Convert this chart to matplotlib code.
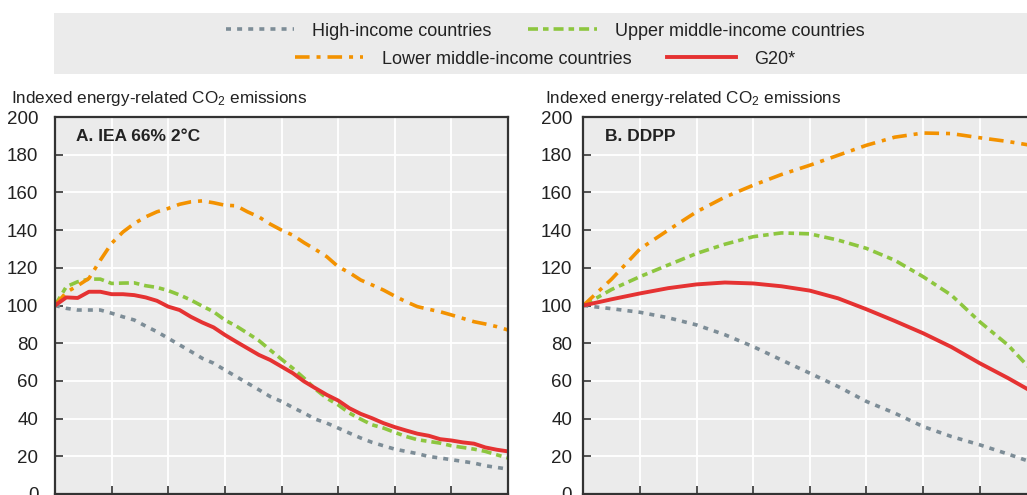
import matplotlib
matplotlib.use("Agg")
import matplotlib.pyplot as plt
from matplotlib import font_manager as fm
from matplotlib.lines import Line2D
from matplotlib.patches import Rectangle

names = {f.name for f in fm.fontManager.ttflist}
FONT = "Liberation Sans Narrow" if "Liberation Sans Narrow" in names else "Liberation Sans"
plt.rcParams["font.family"] = [FONT, "DejaVu Sans"]
plt.rcParams["mathtext.fontset"] = "custom"
plt.rcParams["mathtext.rm"] = FONT
plt.rcParams["mathtext.it"] = FONT
plt.rcParams["lines.scale_dashes"] = False

# ---------------- data ----------------
years_a = list(range(2010, 2051))
iea_high = [100, 98.5, 97.6, 97.6, 97.6, 95.9, 94, 92.3, 89.1, 86.1, 82.6, 79.1, 75.6, 72, 69.4,
            65.8, 62.3, 58.8, 55.3, 51.7, 49.1, 45.9, 42.9, 39.7, 37.6, 35, 32.3, 29.7, 27.4,
            25.6, 23.8, 22.6, 21.4, 19.9, 19.1, 18.2, 17.3, 16.4, 15, 14.1, 13.2]
iea_upper = [100, 110, 112.6, 114, 114, 111.7, 111.9, 112, 110.5, 109.6, 107.9, 105.6, 102.9,
             99.7, 96.7, 92.3, 89.1, 85.3, 81.4, 76.4, 71.5, 66.7, 61.4, 55.6, 50.8, 47.3, 42.9,
             39.7, 36.7, 35, 32.7, 30.5, 28.8, 27.9, 27, 25.6, 24.7, 23.8, 22.6, 20.8, 19.1]
iea_lower = [100, 107, 110.5, 114.4, 124, 133, 139, 143.5, 147, 149.7, 151.5, 153.7, 155, 155.5,
             154.5, 153.2, 152.9, 149.7, 147, 143.2, 140, 137.3, 133.3, 129.7, 125.9, 120.6,
             117.4, 113.5, 110.9, 108.2, 105, 102, 99.4, 98, 96.7, 95, 93.2, 91.4, 90.2, 88.8, 87]
iea_g20 = [100, 104.3, 104, 107.3, 107.3, 106, 106, 105.5, 104.3, 102.5, 99.4, 97.6, 94, 91,
           88.4, 84.4, 80.8, 77.3, 73.8, 71.1, 67.6, 64.1, 59.7, 56.1, 52.6, 49.6, 45.5, 42.5,
           40.2, 37.6, 35.5, 33.7, 32, 30.9, 29.1, 28.4, 27.4, 26.7, 24.7, 23.5, 22.6]

years_b = [2010, 2012.5, 2015, 2017.5, 2020, 2022.5, 2025, 2027.5, 2030, 2032.5, 2035,
           2037.5, 2040, 2042.5, 2045, 2047.5, 2050]
ddpp_high = [100, 98.3, 96.4, 93.5, 89.7, 84.5, 78.2, 71.1, 64.1, 57, 49.1, 42.9, 35.8, 30.5,
             26.1, 21.2, 16]
ddpp_upper = [100, 108.5, 115.3, 121.5, 127.6, 132.5, 136.5, 138.5, 138, 134.7, 130.3, 124,
              115.3, 105.5, 91.4, 79, 63]
ddpp_lower = [100, 114, 130, 140, 149.7, 157.5, 163.8, 169.5, 174.4, 179.7, 185, 189.3, 191.5,
              191.2, 189, 187, 184.5]
ddpp_g20 = [100, 103.3, 106.4, 109.2, 111.2, 112.2, 111.7, 110.2, 107.9, 103.8, 98, 91.8, 85.3,
            78, 69.4, 61.5, 53]

series_labels = ["High-income countries", "Upper middle-income countries",
                 "Lower middle-income countries", "G20*"]
panel_titles = ["A. IEA 66% 2°C", "B. DDPP"]
ylabel = "Indexed energy-related CO$_2$ emissions"
yticks = [0, 20, 40, 60, 80, 100, 120, 140, 160, 180, 200]
xticks = [2010, 2015, 2020, 2025, 2030, 2035, 2040, 2045, 2050]

# ---------------- styles ----------------
C_HIGH = "#7d8d97"
C_UPPER = "#8dc63f"
C_LOWER = "#f39200"
C_G20 = "#e53232"
BG = "#ebebeb"
styles = [
    dict(color=C_HIGH, lw=2.6, ls=(0, (3.6, 4.4))),
    dict(color=C_UPPER, lw=2.6, ls=(0, (7.2, 3.6, 4.0, 3.6))),
    dict(color=C_LOWER, lw=2.6, ls=(0, (10.5, 5.0, 2.9, 5.0))),
    dict(color=C_G20, lw=2.8, ls="-"),
]

W, H = 1027, 495
fig = plt.figure(figsize=(W / 100, H / 100), dpi=100)

def fx(px):
    return px / W

def fy(py):
    return 1 - py / H

# legend background
fig.patches.append(Rectangle((fx(54), fy(73.5)), fx(1100), fy(12.5) - fy(73.5),
                             transform=fig.transFigure, facecolor=BG, edgecolor="none",
                             zorder=0))

ax_w = fx(453)
ax_h = (494 - 117) / H
axA = fig.add_axes([fx(55), fy(494), ax_w, ax_h])
axB = fig.add_axes([fx(583.3), fy(494), ax_w, ax_h])

data = [
    (axA, years_a, [iea_high, iea_upper, iea_lower, iea_g20], 0, 12, 11),
    (axB, years_b, [ddpp_high, ddpp_upper, ddpp_lower, ddpp_g20], 1, 8, 545),
]

for ax, yrs, ser, ti, pad, lab_x in data:
    ax.set_facecolor(BG)
    for vals, st in zip(ser, styles):
        ax.plot(yrs, vals, color=st["color"], lw=st["lw"], linestyle=st["ls"],
                solid_capstyle="butt", dash_capstyle="butt", zorder=3)
    ax.set_xlim(2010, 2050)
    ax.set_ylim(0, 200)
    ax.set_yticks(yticks)
    ax.set_xticks(xticks)
    ax.set_xticklabels([])
    ax.grid(True, color="white", lw=1.3, zorder=1)
    ax.set_axisbelow(True)
    ax.tick_params(axis="both", direction="in", length=6, width=1.2, color="#333333",
                   labelsize=13.5, labelcolor="#222222")
    ax.tick_params(axis="y", pad=pad)
    for sp in ax.spines.values():
        sp.set_color("#333333")
        sp.set_linewidth(1.6)
        sp.set_zorder(4)
    ax.text(0.047, 0.947, panel_titles[ti], transform=ax.transAxes, fontsize=12.5,
            fontweight="bold", color="#222222", ha="left", va="center")
    fig.text(fx(lab_x), fy(98), ylabel, fontsize=12.3, color="#222222", ha="left",
             va="center")

handles = [Line2D([0], [0], color=st["color"], lw=st["lw"], linestyle=st["ls"],
                  dash_capstyle="butt") for st in styles]

common = dict(frameon=False, ncol=2, fontsize=13, handlelength=3.8, handletextpad=1.0,
              columnspacing=2.0, borderaxespad=0, borderpad=0, labelcolor="#222222")
leg1 = fig.legend(handles[:2], series_labels[:2], loc="center",
                  bbox_to_anchor=(fx(545), fy(31)), **common)
leg2 = fig.legend(handles[2:], series_labels[2:], loc="center",
                  bbox_to_anchor=(fx(545), fy(59)), **common)

fig.savefig("out.png", dpi=100, facecolor="white")
